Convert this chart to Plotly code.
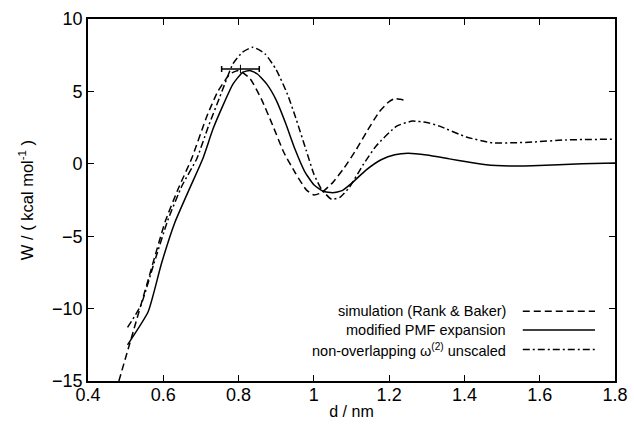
import plotly.graph_objects as go

# simulation (Rank & Baker) - dashed
sim_x = [0.482, 0.52, 0.56, 0.605, 0.64, 0.676, 0.716, 0.745, 0.777, 0.80, 0.83, 0.86, 0.89, 0.92,
         0.95, 0.98, 1.0, 1.02, 1.05, 1.08, 1.113, 1.14, 1.174, 1.2, 1.215, 1.23, 1.249]
sim_y = [-15.0, -11.6, -8.0, -4.0, -1.7, 0.4, 3.3, 5.0, 6.2, 6.45, 5.9, 4.5, 2.7, 0.8,
         -0.6, -1.8, -2.15, -2.0, -1.3, -0.3, 1.0, 2.2, 3.6, 4.3, 4.5, 4.45, 4.35]

# modified PMF expansion - solid
pmf_x = [0.505, 0.56, 0.595, 0.63, 0.67, 0.705, 0.732, 0.758, 0.785, 0.81, 0.83, 0.85, 0.875, 0.90,
         0.925, 0.95, 0.975, 1.0, 1.025, 1.05, 1.075, 1.10, 1.14, 1.18, 1.215, 1.25, 1.30, 1.36, 1.41,
         1.458, 1.52, 1.58, 1.65, 1.713, 1.8]
pmf_y = [-12.5, -10.2, -6.9, -4.1, -1.7, 0.35, 2.4, 4.0, 5.5, 6.3, 6.45, 6.2, 5.5, 4.4,
         2.8, 1.0, -0.5, -1.45, -1.9, -2.0, -1.85, -1.35, -0.4, 0.3, 0.62, 0.72, 0.6, 0.34, 0.12,
         -0.07, -0.15, -0.14, -0.07, 0.0, 0.05]

# non-overlapping omega(2) unscaled - dash-dot
dd_x = [0.505, 0.54, 0.575, 0.612, 0.65, 0.689, 0.72, 0.75, 0.785, 0.81, 0.838, 0.87, 0.90, 0.93,
        0.954, 0.98, 1.0, 1.02, 1.047, 1.07, 1.095, 1.13, 1.166, 1.22, 1.262, 1.30, 1.334,
        1.405, 1.474, 1.53, 1.58, 1.67, 1.8]
dd_y = [-11.3, -9.8, -6.9, -3.9, -1.5, 0.35, 2.6, 4.6, 6.9, 7.7, 8.05, 7.6, 6.5, 4.8,
        3.0, 0.9, -0.7, -1.75, -2.45, -2.3, -1.6, -0.1, 1.25, 2.6, 2.95, 2.85, 2.6,
        1.85, 1.45, 1.45, 1.5, 1.65, 1.7]

# error bar of the simulated barrier
err_x = [0.805]
err_y = [6.55]
err_dx = [0.05]

x_ticks = [0.4, 0.6, 0.8, 1.0, 1.2, 1.4, 1.6, 1.8]
x_tick_text = ["0.4", "0.6", "0.8", "1", "1.2", "1.4", "1.6", "1.8"]
y_ticks = [-15, -10, -5, 0, 5, 10]

labels = ["simulation (Rank &amp; Baker)", "modified PMF expansion",
          "non-overlapping ω<sup>(2)</sup> unscaled"]
dashes = ["7px,4px", "solid", "7px,3px,2px,3px"]

FONT = "Liberation Sans, Arial, Helvetica, sans-serif"

fig = go.Figure()
for xs, ys, dsh in [(sim_x, sim_y, dashes[0]), (pmf_x, pmf_y, dashes[1]), (dd_x, dd_y, dashes[2])]:
    fig.add_trace(go.Scatter(x=xs, y=ys, mode="lines",
                             line=dict(color="black", width=1.5, dash=dsh,
                                       shape="spline", smoothing=0.5),
                             showlegend=False))
fig.add_trace(go.Scatter(x=err_x, y=err_y, mode="markers",
                         marker=dict(symbol="line-ns-open", size=6, color="black",
                                     line=dict(color="black", width=1)),
                         error_x=dict(type="data", array=err_dx, color="black",
                                      thickness=1.5, width=3),
                         showlegend=False))

# manual legend (text right, sample line on the right side)
row_y = [0.193, 0.141, 0.087]
for lab, dsh, yy in zip(labels, dashes, row_y):
    fig.add_annotation(x=0.797, y=yy, xref="paper", yref="paper", text=lab,
                       showarrow=False, xanchor="right", yanchor="middle",
                       font=dict(family=FONT, size=14.5, color="black"))
    fig.add_shape(type="line", xref="paper", yref="paper", x0=0.825, x1=0.962, y0=yy, y1=yy,
                  line=dict(color="black", width=1.5, dash=dsh))

axis_common = dict(showgrid=False, zeroline=False, showline=True, linecolor="black",
                   linewidth=1.8, mirror="ticks", ticks="inside", ticklen=6, tickwidth=1.2,
                   tickcolor="black", automargin=False,
                   tickfont=dict(family=FONT, size=18, color="black"))

fig.update_xaxes(range=[0.4, 1.8], tickvals=x_ticks, ticktext=x_tick_text,
                 ticklabelstandoff=-4,
                 title=dict(text="d / nm", font=dict(family=FONT, size=16, color="black"),
                            standoff=2),
                 **axis_common)
fig.update_yaxes(range=[-15, 10], tickvals=y_ticks,
                 title=dict(text="W / ( kcal mol<sup>-1</sup> )",
                            font=dict(family=FONT, size=16.5, color="black"), standoff=14),
                 **axis_common)

fig.update_layout(width=634, height=431, margin=dict(l=88, r=19, t=19, b=50),
                  paper_bgcolor="white", plot_bgcolor="white",
                  font=dict(family=FONT, color="black"))

fig.write_html("out.html", config={"displayModeBar": False},
               post_script="document.body.style.margin='0px';document.body.style.overflow='hidden';")
